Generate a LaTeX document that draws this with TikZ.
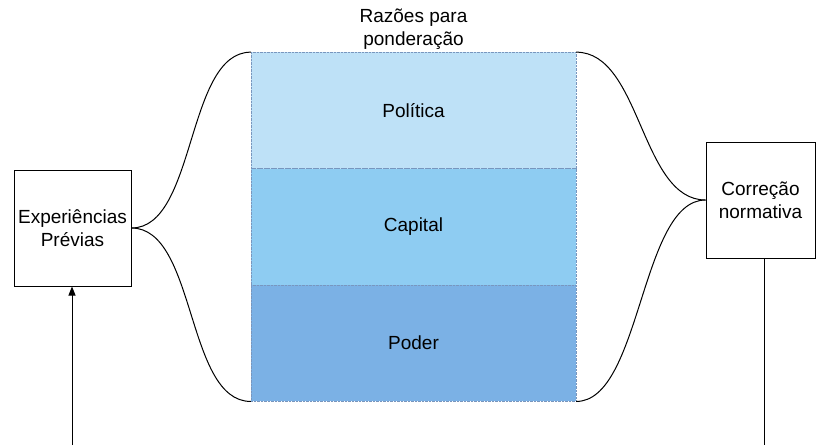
\documentclass[tikz,border=0pt]{standalone}
\usepackage{fontspec}
\setmainfont{Liberation Sans}
\usepackage{tikz}
\usetikzlibrary{arrows.meta}
\definecolor{polblue}{RGB}{190,225,247}
\definecolor{capblue}{RGB}{142,204,242}
\definecolor{podblue}{RGB}{123,177,229}
\definecolor{edgeblue}{RGB}{120,150,190}

\begin{document}
\begin{tikzpicture}[x=1pt,y=-1pt,
  every node/.style={font=\fontsize{19}{23}\selectfont,align=center},
  box/.style={draw,line width=1pt,inner sep=0pt},
  band/.style={draw=edgeblue,densely dotted,line width=0.4pt,minimum width=325pt,minimum height=116.3pt,inner sep=0pt},
  link/.style={line width=1pt}]
\useasboundingbox (0,0) rectangle (816,445);

% caixas laterais
\node[box,minimum width=117pt,minimum height=116pt] (exp) at (72.5,228) {Experiências\\Prévias};
\node[box,minimum width=109pt,minimum height=116pt] (cor) at (760.5,200) {Correção\\normativa};

% razões para ponderação
\node (tit) at (413.5,29) {Razões para\\ponderação};
\node[band,fill=polblue] (pol) at (413.5,110.5) {Política};
\node[band,fill=capblue] (cap) at (413.5,226.8) {Capital};
\node[band,fill=podblue] (pod) at (413.5,343.1) {Poder};

% curvas
\draw[link] (exp.east) .. controls +(65,0) and +(-65,0) .. (pol.north west);
\draw[link] (exp.east) .. controls +(65,0) and +(-65,0) .. (pod.south west);
\draw[link] (pol.north east) .. controls +(65,0) and +(-65,0) .. (cor.west);
\draw[link] (pod.south east) .. controls +(65,0) and +(-65,0) .. (cor.west);

% linhas verticais
\coordinate (expin) at (72,445);
\coordinate (corout) at (764,445);
\draw[link,-{Triangle[length=9pt,width=7pt]}] (expin) -- (exp.south -| expin);
\draw[link] (cor.south -| corout) -- (corout);
\end{tikzpicture}
\end{document}
